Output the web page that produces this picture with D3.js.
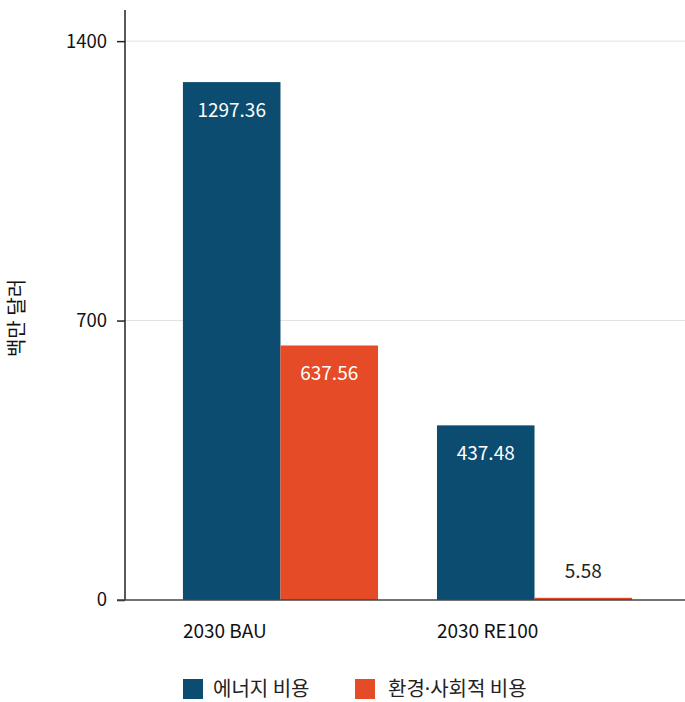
<!DOCTYPE html>
<html>
<head>
<meta charset="utf-8">
<script src="https://cdn.jsdelivr.net/npm/d3@7"></script>
<style>
  html, body { margin: 0; padding: 0; background: #fff; }
  svg { display: block; font-family: "Noto Sans CJK KR", "Noto Sans", sans-serif; }
</style>
</head>
<body>
<svg id="chart" width="685" height="702"></svg>
<script>
const categories = ["2030 BAU", "2030 RE100"];
const seriesNames = ["에너지 비용", "환경·사회적 비용"];
const energyCost = [1297.36, 437.48];
const envSocialCost = [637.56, 5.58];
const yTicks = [0, 700, 1400];
const colors = ["#0b4c70", "#e44b26"];
const yTitle = "백만 달러";

const svg = d3.select("#chart");
const series = [energyCost, envSocialCost];

const x0 = d3.scaleBand().domain(categories).range([125, 690]).paddingInner(0.232).paddingOuter(0.228);
const x1 = d3.scaleBand().domain(seriesNames).range([0, x0.bandwidth()]);
const y = d3.scaleLinear().domain([0, 1478]).range([600, 10]);

// gridlines
svg.append("g").selectAll("line").data(yTicks.filter(d => d > 0)).join("line")
  .attr("x1", 125).attr("x2", 685)
  .attr("y1", d => y(d)).attr("y2", d => y(d))
  .attr("stroke", "#e2e2e2").attr("stroke-width", 1);

// bars
const groups = svg.append("g").selectAll("g").data(categories).join("g")
  .attr("transform", d => `translate(${x0(d)},0)`);

groups.selectAll("rect").data((c, i) => seriesNames.map((s, j) => ({s, v: series[j][i], j})))
  .join("rect")
  .attr("x", d => x1(d.s))
  .attr("width", x1.bandwidth())
  .attr("y", d => y(d.v))
  .attr("height", d => y(0) - y(d.v))
  .attr("fill", d => colors[d.j]);

groups.selectAll("text.val").data((c, i) => seriesNames.map((s, j) => ({s, v: series[j][i], j})))
  .join("text")
  .attr("class", "val")
  .attr("x", d => x1(d.s) + x1.bandwidth() / 2)
  .attr("y", d => (y(0) - y(d.v)) > 50 ? y(d.v) + 35 : y(d.v) - 20)
  .attr("text-anchor", "middle")
  .attr("font-size", 19)
  .attr("fill", d => (y(0) - y(d.v)) > 50 ? "#ffffff" : "#222")
  .text(d => d.v.toFixed(2));

// y axis
const yAxis = svg.append("g").attr("transform", "translate(125,0)")
  .call(d3.axisLeft(y).tickValues(yTicks).tickSize(8).tickPadding(10).tickFormat(d3.format("d")));
yAxis.select(".domain").attr("stroke", "#222").attr("stroke-width", 1.5).attr("d", `M0,${y(0)}V10`);
yAxis.selectAll(".tick line").attr("stroke", "#222").attr("stroke-width", 1.5);
yAxis.selectAll(".tick text").attr("font-size", 18.5).attr("fill", "#111").attr("font-family", "'Noto Sans CJK KR', sans-serif");

// x baseline
svg.append("line").attr("x1", 117).attr("x2", 685).attr("y1", y(0)).attr("y2", y(0))
  .attr("stroke", "#444").attr("stroke-width", 1.5);

// category labels (left aligned at band start)
svg.append("g").selectAll("text").data(categories).join("text")
  .attr("x", d => x0(d))
  .attr("y", 638)
  .attr("font-size", 19)
  .attr("fill", "#111")
  .text(d => d);

// y title
svg.append("text")
  .attr("transform", "translate(24,318) rotate(-90)")
  .attr("text-anchor", "middle")
  .attr("font-size", 20)
  .attr("fill", "#111")
  .text(yTitle);

// legend
const legendX = [183, 355];
const legend = svg.append("g").selectAll("g").data(seriesNames).join("g")
  .attr("transform", (d, i) => `translate(${legendX[i]},679)`);
legend.append("rect").attr("width", 20).attr("height", 20).attr("fill", (d, i) => colors[i]);
legend.append("text").attr("x", (d, i) => i === 0 ? 30 : 33).attr("y", 16.5)
  .attr("font-size", 20).attr("fill", "#222")
  .each(function(d) {
    const parts = d.split("·");
    const t = d3.select(this);
    parts.forEach((p, k) => {
      if (k > 0) t.append("tspan").attr("font-family", "'Noto Sans', sans-serif").text("·");
      t.append("tspan").text(p);
    });
  });
</script>
</body>
</html>
